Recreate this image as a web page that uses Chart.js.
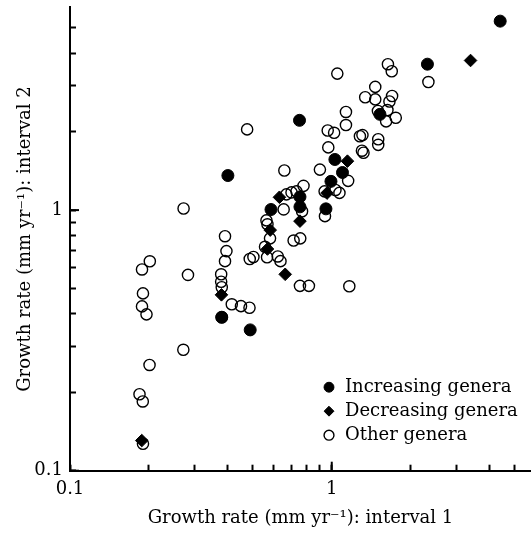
<!DOCTYPE html>
<html><head><meta charset="utf-8">
<script src="https://cdn.jsdelivr.net/npm/chart.js@4"></script>
<style>html,body{margin:0;padding:0;background:#fff;}</style>
</head><body>
<canvas id="c" width="531" height="533"></canvas>
<script>
const seriesNames = ['Increasing genera', 'Decreasing genera', 'Other genera'];

const incX = [4.40, 2.32, 0.753, 0.401, 1.528, 1.028, 1.099, 0.993, 0.950, 0.586, 0.756, 0.756, 0.380, 0.488];
const incY = [5.31, 3.63, 2.21, 1.357, 2.33, 1.564, 1.394, 1.289, 1.011, 1.005, 1.124, 1.029, 0.388, 0.347];

const decX = [3.39, 1.148, 0.959, 0.631, 0.756, 0.582, 0.568, 0.664, 0.379, 0.188];
const decY = [3.75, 1.541, 1.162, 1.120, 0.907, 0.838, 0.709, 0.567, 0.473, 0.1305];

const othX = [1.639, 1.695, 1.05, 2.34, 1.466, 1.342, 1.466, 1.70, 1.661, 1.501, 1.632, 1.756, 1.613,
  1.133, 1.133, 0.965, 1.021, 1.281, 1.31, 1.505, 1.505, 1.304, 1.322, 0.970, 0.901, 1.155, 0.939,
  1.033, 1.070, 0.942, 0.659, 0.475, 0.2716, 0.780, 0.733, 0.702, 0.671, 0.655, 0.563, 0.568, 0.581,
  0.556, 0.566, 0.622, 0.637, 1.167, 0.756, 0.818, 0.715, 0.758, 0.391, 0.396, 0.391, 0.2823, 0.378,
  0.378, 0.380, 0.486, 0.502, 0.415, 0.450, 0.485, 0.380, 0.2018, 0.1884, 0.190, 0.1884, 0.196,
  0.2013, 0.1843, 0.1897, 0.190, 0.271, 0.77];
const othY = [3.63, 3.41, 3.34, 3.10, 2.97, 2.71, 2.66, 2.74, 2.61, 2.40, 2.42, 2.26, 2.19,
  2.38, 2.12, 2.02, 1.98, 1.92, 1.94, 1.87, 1.78, 1.69, 1.66, 1.74, 1.43, 1.295, 1.18,
  1.195, 1.164, 0.948, 1.419, 2.04, 1.014, 1.239, 1.18, 1.169, 1.149, 1.006, 0.913, 0.882, 0.779,
  0.723, 0.659, 0.664, 0.637, 0.510, 0.512, 0.512, 0.764, 0.779, 0.794, 0.696, 0.637, 0.564, 0.567,
  0.531, 0.506, 0.649, 0.661, 0.435, 0.428, 0.422, 0.388, 0.636, 0.592, 0.479, 0.427, 0.398,
  0.2545, 0.1965, 0.1844, 0.1269, 0.291, 0.99];

const tickValues = [0.1, 0.2, 0.3, 0.4, 0.5, 0.6, 0.7, 0.8, 0.9, 1, 2, 3, 4, 5];
const labeledTicks = [0.1, 1];
const xTitle = 'Growth rate (mm yr\u207B\u00B9): interval 1';
const yTitle = 'Growth rate (mm yr\u207B\u00B9): interval 2';

const FONT = { family: '"DejaVu Serif", serif', size: 18 };
const pts = (xs, ys) => xs.map((v, i) => ({ x: v, y: ys[i] }));

const majorTicksPlugin = {
  id: 'majorTicks',
  afterDraw(chart) {
    const ctx = chart.ctx, a = chart.chartArea, sx = chart.scales.x, sy = chart.scales.y;
    ctx.save();
    ctx.strokeStyle = '#000';
    ctx.lineWidth = 2;
    labeledTicks.forEach(v => {
      const px = sx.getPixelForValue(v);
      ctx.beginPath(); ctx.moveTo(px, a.bottom); ctx.lineTo(px, a.bottom - 9); ctx.stroke();
      const py = sy.getPixelForValue(v);
      ctx.beginPath(); ctx.moveTo(a.left, py); ctx.lineTo(a.left + 9, py); ctx.stroke();
    });
    ctx.restore();
  }
};

const legendPlacePlugin = {
  id: 'legendPlace',
  afterLayout(chart) {
    const lg = chart.legend;
    if (!lg) return;
    lg.left = 316; lg.right = 528;
    lg.top = 372.2; lg.bottom = 468;
    lg.width = lg.right - lg.left; lg.height = lg.bottom - lg.top;
  }
};

const zeroPad = s => { s.paddingTop = 0; s.paddingBottom = 0; s.paddingLeft = 0; s.paddingRight = 0; };

const axisCommon = (title, tpad, titlePad) => ({
  type: 'logarithmic',
  min: 0.1,
  afterBuildTicks: s => { s.ticks = tickValues.map(v => ({ value: v })); },
  ticks: {
    autoSkip: false, maxRotation: 0, minRotation: 0, color: '#000', font: FONT, padding: tpad,
    callback: v => labeledTicks.includes(v) ? String(v) : ''
  },
  grid: { drawOnChartArea: false, drawTicks: true, tickLength: -6, tickWidth: 2, tickColor: '#000' },
  border: { color: '#000', width: 2 },
  title: { display: true, text: title, color: '#000', font: FONT, padding: titlePad }
});

new Chart(document.getElementById('c'), {
  type: 'scatter',
  data: {
    datasets: [
      { label: seriesNames[0], data: pts(incX, incY), pointStyle: 'circle', pointRadius: 6,
        backgroundColor: '#000', borderColor: '#000', borderWidth: 1 },
      { label: seriesNames[1], data: pts(decX, decY), pointStyle: 'rectRot', pointRadius: 6.3,
        backgroundColor: '#000', borderColor: '#000', borderWidth: 1 },
      { label: seriesNames[2], data: pts(othX, othY), pointStyle: 'circle', pointRadius: 5.6,
        backgroundColor: 'rgba(0,0,0,0)', borderColor: '#000', borderWidth: 1.4 }
    ]
  },
  options: {
    responsive: false,
    devicePixelRatio: 1,
    animation: false,
    layout: { autoPadding: false, padding: { top: 7.3, right: 0, bottom: 0, left: 0 } },
    plugins: {
      legend: {
        position: 'chartArea', align: 'start',
        labels: { usePointStyle: true, boxWidth: 14, boxHeight: 7, padding: 6, color: '#000', font: FONT }
      },
      tooltip: { enabled: false }
    },
    scales: {
      x: Object.assign(axisCommon(xTitle, 14, { top: 0, bottom: 4 }), {
        position: 'bottom', max: 5.77,
        afterFit: s => { s.height = 62.3; zeroPad(s); }
      }),
      y: Object.assign(axisCommon(yTitle, 13, { top: 15, bottom: 0 }), {
        position: 'left', max: 6.0,
        afterFit: s => { s.width = 70; zeroPad(s); }
      })
    }
  },
  plugins: [majorTicksPlugin, legendPlacePlugin]
});
</script>
</body></html>
